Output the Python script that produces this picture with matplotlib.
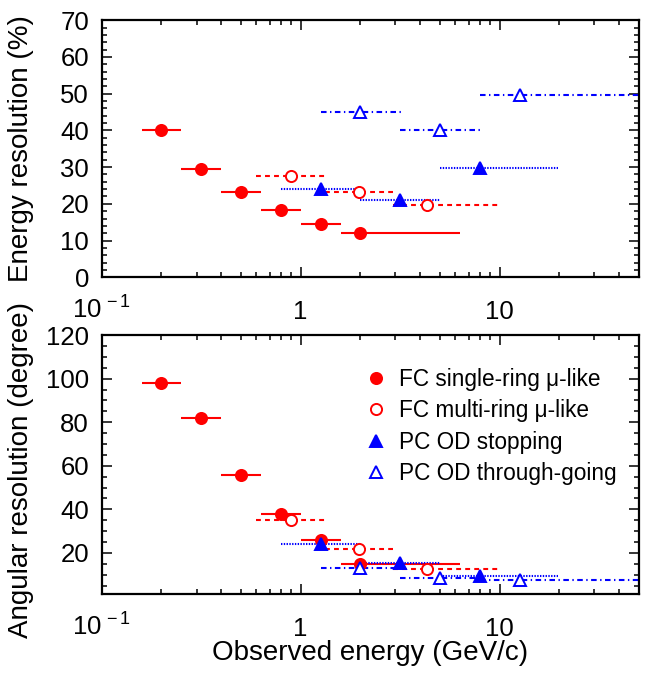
import numpy as np
import matplotlib
matplotlib.use("Agg")
import matplotlib.pyplot as plt
from matplotlib.lines import Line2D
from matplotlib.ticker import FixedLocator, FixedFormatter, MultipleLocator, LogLocator, NullFormatter

plt.rcParams['font.family'] = ['Liberation Sans', 'DejaVu Sans']
plt.rcParams['mathtext.fontset'] = 'custom'
plt.rcParams['mathtext.rm'] = 'Liberation Sans'
plt.rcParams['mathtext.it'] = 'Liberation Sans:italic'
plt.rcParams['mathtext.bf'] = 'Liberation Sans:bold'
plt.rcParams['lines.scale_dashes'] = False

# ---------------- data ----------------
fc_single_x = [0.2, 0.316, 0.5, 0.8, 1.26, 2.0]
fc_single_lo = [0.16, 0.25, 0.4, 0.63, 1.0, 1.6]
fc_single_hi = [0.25, 0.4, 0.63, 1.0, 1.6, 6.3]
fc_single_eres = [40.2, 29.5, 23.1, 18.2, 14.4, 12.0]
fc_single_ares = [98, 82, 56, 38, 26, 15]

fc_multi_x = [0.9, 1.96, 4.3]
fc_multi_lo = [0.6, 1.33, 2.9]
fc_multi_hi = [1.33, 2.9, 10.0]
fc_multi_eres = [27.6, 23.1, 19.7]
fc_multi_ares = [35, 22, 12.5]

pc_stop_x = [1.27, 3.17, 7.96]
pc_stop_lo = [0.8, 2.0, 5.0]
pc_stop_hi = [2.0, 5.0, 19.6]
pc_stop_eres = [24.0, 21.0, 29.7]
pc_stop_ares = [24, 15.3, 9.4]

pc_thru_x = [2.0, 5.0, 12.7]
pc_thru_lo = [1.27, 3.17, 7.96]
pc_thru_hi = [3.2, 8.0, 100.0]
pc_thru_eres = [44.9, 40.1, 49.6]
pc_thru_ares = [13, 8.4, 7.5]

labels = ['FC single-ring \u03bc-like', 'FC multi-ring \u03bc-like',
          'PC OD stopping', 'PC OD through-going']
xtick_vals = [0.1, 1, 10]
xtick_labels = [r'$\mathregular{10^{\,-1}}$', '1', '10']

RED = '#ff0000'
BLUE = '#0000ff'

series = [
    dict(x=fc_single_x, lo=fc_single_lo, hi=fc_single_hi, e=fc_single_eres, a=fc_single_ares,
         color=RED, marker='o', mfc=RED, ls='-', ms=8),
    dict(x=fc_multi_x, lo=fc_multi_lo, hi=fc_multi_hi, e=fc_multi_eres, a=fc_multi_ares,
         color=RED, marker='o', mfc='white', ls=(0, (3.5, 3.0)), ms=8),
    dict(x=pc_stop_x, lo=pc_stop_lo, hi=pc_stop_hi, e=pc_stop_eres, a=pc_stop_ares,
         color=BLUE, marker='^', mfc=BLUE, ls=(0, (1.0, 1.0)), ms=8),
    dict(x=pc_thru_x, lo=pc_thru_lo, hi=pc_thru_hi, e=pc_thru_eres, a=pc_thru_ares,
         color=BLUE, marker='^', mfc='white', ls=(0, (4.0, 2.5, 1.0, 2.5)), ms=8.5),
]

fig = plt.figure(figsize=(6.47, 6.73), dpi=100)
ax1 = fig.add_axes([0.157, 0.588, 0.830, 0.382])
ax2 = fig.add_axes([0.157, 0.117, 0.830, 0.385])


def draw(ax, key):
    for s in series:
        x = np.array(s['x'])
        xerr = [x - np.array(s['lo']), np.array(s['hi']) - x]
        cont = ax.errorbar(x, s[key], xerr=xerr, fmt='none', ecolor=s['color'],
                           elinewidth=1.5, capsize=0, zorder=2)
        for lc in cont[2]:
            lc.set_linestyle(s['ls'])
        ax.plot(x, s[key], ls='none', marker=s['marker'], ms=s['ms'], mfc=s['mfc'],
                mec=s['color'], mew=1.4, zorder=3)


def style(ax):
    ax.set_xscale('log')
    ax.set_xlim(0.1, 50)
    ax.xaxis.set_major_locator(FixedLocator(xtick_vals))
    ax.xaxis.set_major_formatter(FixedFormatter(xtick_labels))
    ax.xaxis.set_minor_locator(LogLocator(base=10, subs=np.arange(2, 10), numticks=20))
    ax.xaxis.set_minor_formatter(NullFormatter())
    ax.tick_params(which='both', direction='in', top=True, right=True, width=1.1,
                   labelsize=18.5)
    ax.tick_params(which='major', length=7.5)
    ax.tick_params(which='minor', length=3.6)
    ax.tick_params(axis='x', which='major', pad=30)
    ax.tick_params(axis='y', which='major', pad=9)
    for lab in ax.get_xticklabels():
        lab.set_verticalalignment('baseline')
    for sp in ax.spines.values():
        sp.set_linewidth(1.6)


draw(ax1, 'e')
style(ax1)
ax1.set_ylim(0, 70)
ax1.yaxis.set_major_locator(MultipleLocator(10))
ax1.yaxis.set_minor_locator(MultipleLocator(2))
ax1.set_ylabel('Energy resolution (%)', fontsize=20)
ax1.yaxis.set_label_coords(-0.125, 0.5)

draw(ax2, 'a')
style(ax2)
ax2.set_ylim(1, 120)
ax2.yaxis.set_major_locator(MultipleLocator(20))
ax2.yaxis.set_minor_locator(MultipleLocator(5))
ax2.set_ylabel('Angular resolution (degree)', fontsize=20)
ax2.yaxis.set_label_coords(-0.125, 0.48)
ax2.set_xlabel('Observed energy (GeV/c)', fontsize=20)
ax2.xaxis.set_label_coords(0.5, -0.178)

handles = []
for s in series:
    handles.append(Line2D([], [], ls='none', marker=s['marker'], ms=s['ms'],
                          mfc=s['mfc'], mec=s['color'], mew=1.4))
ax2.legend(handles, labels, loc='upper left', bbox_to_anchor=(0.49, 0.874),
           frameon=False, fontsize=16.3, handlelength=1.0, handletextpad=0.5,
           borderpad=0, borderaxespad=0, labelspacing=0.37)

fig.savefig('out.png', dpi=100)
